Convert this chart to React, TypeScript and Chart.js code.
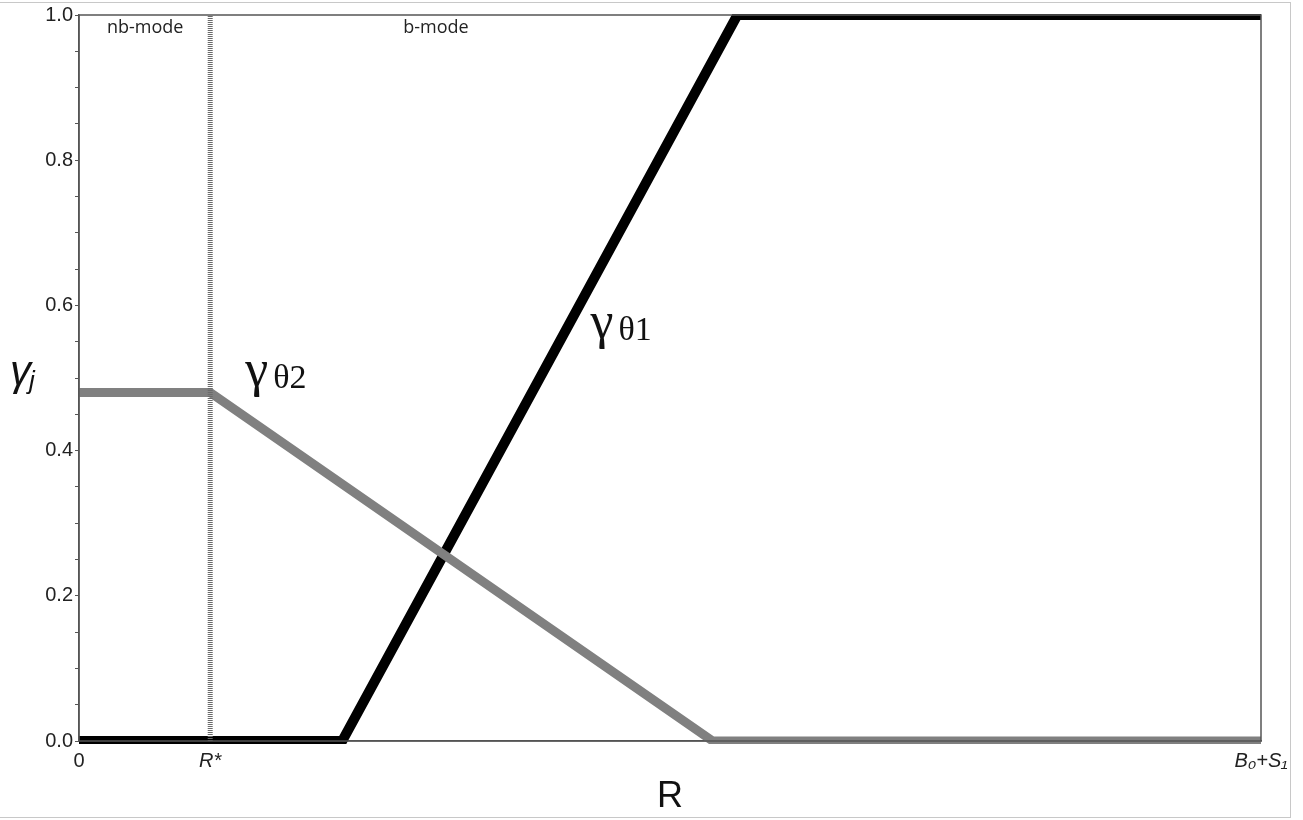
import React, { useEffect, useRef } from "react";
import { Chart, registerables } from "chart.js";

Chart.register(...registerables);

// ---- data ----
const xTickValues = [0, 0.111, 1];
const xTickLabels = ["0", "R*", "B₀+S₁"];
const yMajorStep = 0.2;
const yMinorStep = 0.05;

const gamma1X = [0, 0.2227, 0.557, 1];
const gamma1Y = [0, 0, 1, 1];

const gamma2X = [0, 0.111, 0.536, 1];
const gamma2Y = [0.48, 0.48, 0, 0];

const rStarX = [0.111, 0.111];
const rStarY = [0, 1];

const modeLabels = ["nb-mode", "b-mode"];
const modeLabelX = [0.056, 0.302];
const modeLabelY = 0.982;

const curveLabelSub = ["θ1", "θ2"];
const curveLabelX = [0.4327, 0.1406];
const curveLabelY = [0.552, 0.486];

const toPts = (xs: number[], ys: number[]) => xs.map((x, i) => ({ x, y: ys[i] }));

const annotations = {
  id: "annotations",
  beforeDraw(chart: any) {
    const { ctx } = chart;
    ctx.save();
    ctx.strokeStyle = "#c8c8c8";
    ctx.lineWidth = 1;
    ctx.strokeRect(-1.5, 2.5, 1292, 815);
    ctx.restore();
  },
  afterDatasetsDraw(chart: any) {
    const { ctx, chartArea } = chart;
    const xs = chart.scales.x;
    const ys = chart.scales.y;
    ctx.save();
    // frame
    ctx.strokeStyle = "#555";
    ctx.lineWidth = 1.5;
    ctx.strokeRect(chartArea.left, chartArea.top, chartArea.right - chartArea.left, chartArea.bottom - chartArea.top);

    // mode labels
    ctx.fillStyle = "#222";
    ctx.font = "18px 'Open Sans'";
    ctx.textAlign = "center";
    ctx.textBaseline = "middle";
    modeLabels.forEach((t, i) => {
      ctx.fillText(t, xs.getPixelForValue(modeLabelX[i]), ys.getPixelForValue(modeLabelY));
    });

    // curve labels
    ctx.textAlign = "left";
    ctx.textBaseline = "alphabetic";
    ctx.fillStyle = "#111";
    curveLabelSub.forEach((sub, i) => {
      const px = xs.getPixelForValue(curveLabelX[i]);
      const py = ys.getPixelForValue(curveLabelY[i]);
      ctx.font = "52px 'Liberation Serif'";
      ctx.fillText("γ", px, py - 2);
      const w = ctx.measureText("γ").width;
      ctx.font = "34px 'Liberation Serif'";
      ctx.fillText(sub, px + w + 5, py);
    });

    // y title (upright)
    const tx = ys.left + 10;
    const ty = ys.getPixelForValue(0.49);
    ctx.font = "italic 42px 'Liberation Sans'";
    ctx.fillText("γ", tx, ty);
    const gw = ctx.measureText("γ").width;
    ctx.font = "italic 26px 'Liberation Sans'";
    ctx.fillText("j", tx + gw - 2, ty + 4);
    ctx.restore();
  },
};

export default function App() {
  const ref = useRef<HTMLCanvasElement | null>(null);
  useEffect(() => {
    if (!ref.current) return;
    const chart = new Chart(ref.current, {
      type: "scatter",
      data: {
        datasets: [
          {
            data: toPts(rStarX, rStarY),
            showLine: true,
            borderColor: "#6a6a6a",
            borderWidth: 5,
            borderDash: [1, 1],
            pointRadius: 0,
            borderCapStyle: "butt",
          },
          {
            data: toPts(gamma2X, gamma2Y),
            showLine: true,
            borderColor: "#808080",
            borderWidth: 9,
            pointRadius: 0,
            borderJoinStyle: "miter",
            borderCapStyle: "butt",
            clip: { left: 0, top: 1, right: 0, bottom: 3 },
          },
          {
            data: toPts(gamma1X, gamma1Y),
            showLine: true,
            borderColor: "#000",
            borderWidth: 10,
            pointRadius: 0,
            borderJoinStyle: "miter",
            borderCapStyle: "butt",
            clip: { left: 0, top: 1, right: 0, bottom: 3 },
          },
        ] as any,
      },
      options: {
        animation: false,
        responsive: false,
        maintainAspectRatio: false,
        layout: { padding: { top: 15, right: 42, bottom: 0, left: 0 } },
        plugins: { legend: { display: false }, tooltip: { enabled: false } },
        scales: {
          x: {
            type: "linear",
            min: 0,
            max: 1,
            afterFit: (s: any) => {
              s.height = 79;
            },
            afterBuildTicks: (s: any) => {
              s.ticks = xTickValues.map((v) => ({ value: v }));
            },
            grid: { drawOnChartArea: false, drawTicks: false },
            border: { color: "#555", width: 1.5 },
            ticks: {
              padding: 8,
              maxRotation: 0,
              autoSkip: false,
              color: "#222",
              font: (c: any) => ({
                family: "'Liberation Sans'",
                size: 20,
                style: c.index === 0 ? "normal" : "italic",
              }),
              callback: (_v: any, i: number) => xTickLabels[i],
            },
            title: {
              display: true,
              text: "R",
              color: "#111",
              font: { family: "'Liberation Sans'", size: 36 },
              padding: { top: 0, bottom: 1 },
            },
          },
          y: {
            type: "linear",
            min: 0,
            max: 1,
            afterFit: (s: any) => {
              s.width = 79;
            },
            grid: { drawOnChartArea: false, tickLength: 4, color: "#555" },
            border: { color: "#555", width: 1.5 },
            ticks: {
              stepSize: yMinorStep,
              padding: 2,
              color: "#222",
              font: { family: "'Liberation Sans'", size: 20 },
              callback: (v: any) => {
                const r = v / yMajorStep;
                return Math.abs(r - Math.round(r)) < 1e-6 ? Number(v).toFixed(1) : "";
              },
            },
          },
        },
      },
      plugins: [annotations],
    });
    return () => chart.destroy();
  }, []);
  return (
    <div style={{ position: "absolute", left: 0, top: 0, width: 1303, height: 820, background: "#fff" }}>
      <canvas ref={ref} width={1303} height={820} style={{ display: "block" }} />
    </div>
  );
}
